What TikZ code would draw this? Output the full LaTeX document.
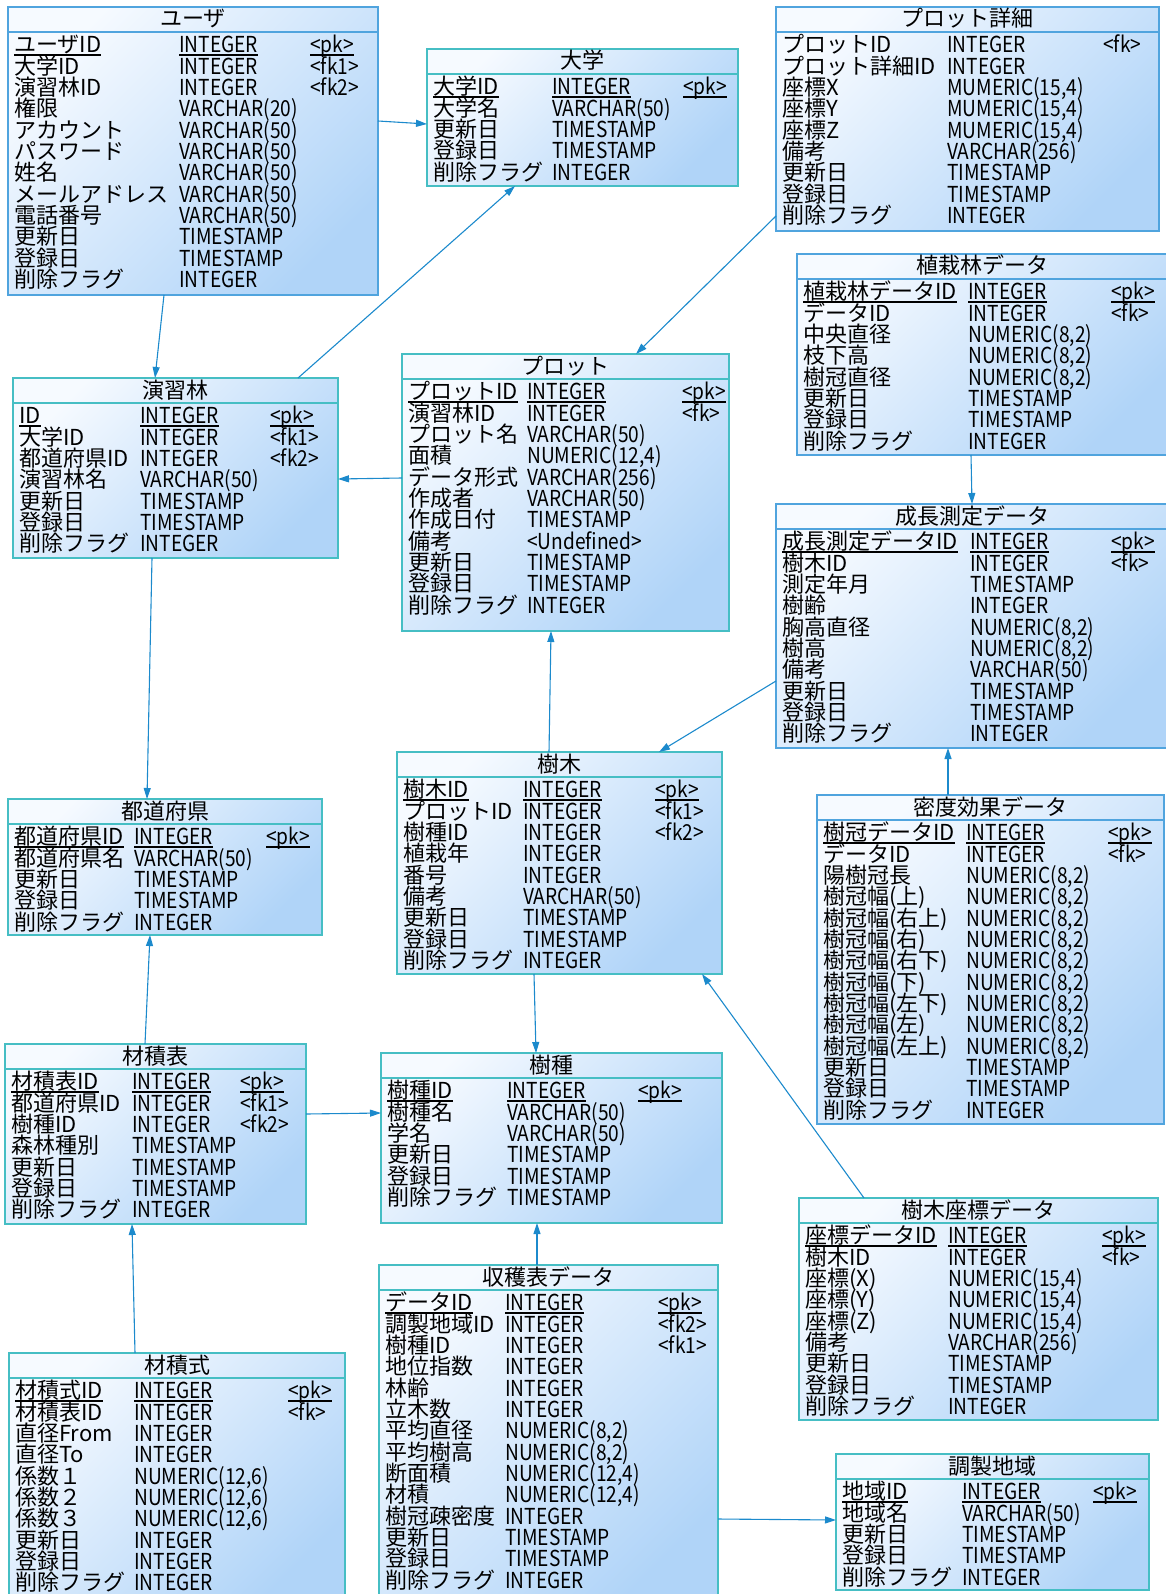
\documentclass[tikz,border=0pt]{standalone}
\usepackage{fontspec}
\setmainfont{Noto Sans CJK JP}
\newfontfamily\latfont[FakeStretch=0.87]{Noto Sans CJK JP}
\usetikzlibrary{arrows.meta}
\definecolor{bfilla}{RGB}{246,250,255}
\definecolor{bfillb}{RGB}{176,212,248}
\definecolor{edgeteal}{RGB}{70,190,196}
\definecolor{edgeblue}{RGB}{80,164,222}
\definecolor{relcol}{RGB}{28,138,204}
\newcommand\entfont{\fontsize{22}{21.35}\selectfont}
\newcommand\pkul[1]{\setbox0=\hbox{#1}\rlap{\rule[-3pt]{\wd0}{1.8pt}}\box0}
\newcommand\cwA{100pt}
\newcommand\cwB{100pt}
\newcommand\rw[3]{\hbox{\vrule height 15pt depth 6.35pt width 0pt\smash{\makebox[\cwA][l]{#1}\makebox[\cwB][l]{\latfont #2}{\latfont #3}}}}
\tikzset{
  entbox/.style={rectangle, anchor=north west, inner sep=0pt, outer sep=0pt,
    line width=1.4pt, top color=bfilla, bottom color=bfillb, shading angle=45},
  titletext/.style={anchor=base, inner sep=0pt, font=\entfont},
  bodytext/.style={anchor=north west, inner sep=0pt, font=\entfont},
  rel/.style={draw=relcol, line width=1.1pt, -{Triangle[length=11pt,width=7pt]}},
}
% #1 name #2 edge colour #3 x,y #4 width #5 height #6 title #7 col1 width #8 col2 width #9 rows
\newcommand\entity[9]{%
  \node[entbox, draw=#2, minimum width=#4pt, minimum height=#5pt] (#1) at (#3) {};
  \draw[draw=#2, line width=1.3pt] ([yshift=-25pt]#1.north west) -- ([yshift=-25pt]#1.north east);
  \node[titletext] (#1-title) at ([yshift=-20pt]#1.north) {#6};
  \renewcommand\cwA{#7pt}\renewcommand\cwB{#8pt}%
  \node[bodytext] (#1-body) at ([xshift=6pt,yshift=-30.5pt]#1.north west)
    {\vbox{\baselineskip=21.35pt\lineskiplimit=-\maxdimen\lineskip=0pt #9}};
}
\begin{document}
\begin{tikzpicture}[x=1pt,y=-1pt]
\useasboundingbox (0,0) rectangle (1166,1594);

\entity{user}{edgeblue}{8,7}{370}{288}{ユーザ}{165}{131}{%
\rw{\pkul{ユーザID}}{\pkul{INTEGER}}{\pkul{<pk>}}
\rw{大学ID}{INTEGER}{<fk1>}
\rw{演習林ID}{INTEGER}{<fk2>}
\rw{権限}{VARCHAR(20)}{}
\rw{アカウント}{VARCHAR(50)}{}
\rw{パスワード}{VARCHAR(50)}{}
\rw{姓名}{VARCHAR(50)}{}
\rw{メールアドレス}{VARCHAR(50)}{}
\rw{電話番号}{VARCHAR(50)}{}
\rw{更新日}{TIMESTAMP}{}
\rw{登録日}{TIMESTAMP}{}
\rw{削除フラグ}{INTEGER}{}}

\entity{univ}{edgeteal}{427,49}{311}{137}{大学}{119}{131}{%
\rw{\pkul{大学ID}}{\pkul{INTEGER}}{\pkul{<pk>}}
\rw{大学名}{VARCHAR(50)}{}
\rw{更新日}{TIMESTAMP}{}
\rw{登録日}{TIMESTAMP}{}
\rw{削除フラグ}{INTEGER}{}}

\entity{plotd}{edgeblue}{776,7}{383}{224}{プロット詳細}{165}{156}{%
\rw{プロットID}{INTEGER}{<fk>}
\rw{プロット詳細ID}{INTEGER}{}
\rw{座標X}{MUMERIC(15,4)}{}
\rw{座標Y}{MUMERIC(15,4)}{}
\rw{座標Z}{MUMERIC(15,4)}{}
\rw{備考}{VARCHAR(256)}{}
\rw{更新日}{TIMESTAMP}{}
\rw{登録日}{TIMESTAMP}{}
\rw{削除フラグ}{INTEGER}{}}

\entity{shoku}{edgeblue}{797,254}{371}{201}{植栽林データ}{165}{143}{%
\rw{\pkul{植栽林データID}}{\pkul{INTEGER}}{\pkul{<pk>}}
\rw{データID}{INTEGER}{<fk>}
\rw{中央直径}{NUMERIC(8,2)}{}
\rw{枝下高}{NUMERIC(8,2)}{}
\rw{樹冠直径}{NUMERIC(8,2)}{}
\rw{更新日}{TIMESTAMP}{}
\rw{登録日}{TIMESTAMP}{}
\rw{削除フラグ}{INTEGER}{}}

\entity{ensyu}{edgeteal}{13,378}{325}{180}{演習林}{121}{130}{%
\rw{\pkul{ID}}{\pkul{INTEGER}}{\pkul{<pk>}}
\rw{大学ID}{INTEGER}{<fk1>}
\rw{都道府県ID}{INTEGER}{<fk2>}
\rw{演習林名}{VARCHAR(50)}{}
\rw{更新日}{TIMESTAMP}{}
\rw{登録日}{TIMESTAMP}{}
\rw{削除フラグ}{INTEGER}{}}

\entity{plot}{edgeteal}{402,354}{327}{277}{プロット}{119}{155}{%
\rw{\pkul{プロットID}}{\pkul{INTEGER}}{\pkul{<pk>}}
\rw{演習林ID}{INTEGER}{<fk>}
\rw{プロット名}{VARCHAR(50)}{}
\rw{面積}{NUMERIC(12,4)}{}
\rw{データ形式}{VARCHAR(256)}{}
\rw{作成者}{VARCHAR(50)}{}
\rw{作成日付}{TIMESTAMP}{}
\rw{備考}{<Undefined>}{}
\rw{更新日}{TIMESTAMP}{}
\rw{登録日}{TIMESTAMP}{}
\rw{削除フラグ}{INTEGER}{}}

\entity{seicho}{edgeblue}{776,504}{392}{244}{成長測定データ}{188}{141}{%
\rw{\pkul{成長測定データID}}{\pkul{INTEGER}}{\pkul{<pk>}}
\rw{樹木ID}{INTEGER}{<fk>}
\rw{測定年月}{TIMESTAMP}{}
\rw{樹齢}{INTEGER}{}
\rw{胸高直径}{NUMERIC(8,2)}{}
\rw{樹高}{NUMERIC(8,2)}{}
\rw{備考}{VARCHAR(50)}{}
\rw{更新日}{TIMESTAMP}{}
\rw{登録日}{TIMESTAMP}{}
\rw{削除フラグ}{INTEGER}{}}

\entity{jumoku}{edgeteal}{397,752}{325}{222}{樹木}{120}{132}{%
\rw{\pkul{樹木ID}}{\pkul{INTEGER}}{\pkul{<pk>}}
\rw{プロットID}{INTEGER}{<fk1>}
\rw{樹種ID}{INTEGER}{<fk2>}
\rw{植栽年}{INTEGER}{}
\rw{番号}{INTEGER}{}
\rw{備考}{VARCHAR(50)}{}
\rw{更新日}{TIMESTAMP}{}
\rw{登録日}{TIMESTAMP}{}
\rw{削除フラグ}{INTEGER}{}}

\entity{mitsudo}{edgeblue}{817,795}{347}{329}{密度効果データ}{143}{142}{%
\rw{\pkul{樹冠データID}}{\pkul{INTEGER}}{\pkul{<pk>}}
\rw{データID}{INTEGER}{<fk>}
\rw{陽樹冠長}{NUMERIC(8,2)}{}
\rw{樹冠幅(上)}{NUMERIC(8,2)}{}
\rw{樹冠幅(右上)}{NUMERIC(8,2)}{}
\rw{樹冠幅(右)}{NUMERIC(8,2)}{}
\rw{樹冠幅(右下)}{NUMERIC(8,2)}{}
\rw{樹冠幅(下)}{NUMERIC(8,2)}{}
\rw{樹冠幅(左下)}{NUMERIC(8,2)}{}
\rw{樹冠幅(左)}{NUMERIC(8,2)}{}
\rw{樹冠幅(左上)}{NUMERIC(8,2)}{}
\rw{更新日}{TIMESTAMP}{}
\rw{登録日}{TIMESTAMP}{}
\rw{削除フラグ}{INTEGER}{}}

\entity{pref}{edgeteal}{8,799}{314}{136}{都道府県}{120}{132}{%
\rw{\pkul{都道府県ID}}{\pkul{INTEGER}}{\pkul{<pk>}}
\rw{都道府県名}{VARCHAR(50)}{}
\rw{更新日}{TIMESTAMP}{}
\rw{登録日}{TIMESTAMP}{}
\rw{削除フラグ}{INTEGER}{}}

\entity{zaiseki}{edgeteal}{5,1044}{301}{180}{材積表}{121}{108}{%
\rw{\pkul{材積表ID}}{\pkul{INTEGER}}{\pkul{<pk>}}
\rw{都道府県ID}{INTEGER}{<fk1>}
\rw{樹種ID}{INTEGER}{<fk2>}
\rw{森林種別}{TIMESTAMP}{}
\rw{更新日}{TIMESTAMP}{}
\rw{登録日}{TIMESTAMP}{}
\rw{削除フラグ}{INTEGER}{}}

\entity{jushu}{edgeteal}{381,1053}{341}{170}{樹種}{120}{131}{%
\rw{\pkul{樹種ID}}{\pkul{INTEGER}}{\pkul{<pk>}}
\rw{樹種名}{VARCHAR(50)}{}
\rw{学名}{VARCHAR(50)}{}
\rw{更新日}{TIMESTAMP}{}
\rw{登録日}{TIMESTAMP}{}
\rw{削除フラグ}{TIMESTAMP}{}}

\entity{shukaku}{edgeteal}{379,1265}{339}{340}{収穫表データ}{120}{153}{%
\rw{\pkul{データID}}{\pkul{INTEGER}}{\pkul{<pk>}}
\rw{調製地域ID}{INTEGER}{<fk2>}
\rw{樹種ID}{INTEGER}{<fk1>}
\rw{地位指数}{INTEGER}{}
\rw{林齢}{INTEGER}{}
\rw{立木数}{INTEGER}{}
\rw{平均直径}{NUMERIC(8,2)}{}
\rw{平均樹高}{NUMERIC(8,2)}{}
\rw{断面積}{NUMERIC(12,4)}{}
\rw{材積}{NUMERIC(12,4)}{}
\rw{樹冠疎密度}{INTEGER}{}
\rw{更新日}{TIMESTAMP}{}
\rw{登録日}{TIMESTAMP}{}
\rw{削除フラグ}{INTEGER}{}}

\entity{zahyo}{edgeteal}{799,1198}{359}{222}{樹木座標データ}{143}{154}{%
\rw{\pkul{座標データID}}{\pkul{INTEGER}}{\pkul{<pk>}}
\rw{樹木ID}{INTEGER}{<fk>}
\rw{座標(X)}{NUMERIC(15,4)}{}
\rw{座標(Y)}{NUMERIC(15,4)}{}
\rw{座標(Z)}{NUMERIC(15,4)}{}
\rw{備考}{VARCHAR(256)}{}
\rw{更新日}{TIMESTAMP}{}
\rw{登録日}{TIMESTAMP}{}
\rw{削除フラグ}{INTEGER}{}}

\entity{chosei}{edgeteal}{836,1454}{313}{136}{調製地域}{120}{131}{%
\rw{\pkul{地域ID}}{\pkul{INTEGER}}{\pkul{<pk>}}
\rw{地域名}{VARCHAR(50)}{}
\rw{更新日}{TIMESTAMP}{}
\rw{登録日}{TIMESTAMP}{}
\rw{削除フラグ}{INTEGER}{}}

\entity{zsiki}{edgeteal}{9,1353}{336}{250}{材積式}{119}{154}{%
\rw{\pkul{材積式ID}}{\pkul{INTEGER}}{\pkul{<pk>}}
\rw{材積表ID}{INTEGER}{<fk>}
\rw{直径From}{INTEGER}{}
\rw{直径To}{INTEGER}{}
\rw{係数１}{NUMERIC(12,6)}{}
\rw{係数２}{NUMERIC(12,6)}{}
\rw{係数３}{NUMERIC(12,6)}{}
\rw{更新日}{INTEGER}{}
\rw{登録日}{INTEGER}{}
\rw{削除フラグ}{INTEGER}{}}

% relations
\draw[rel] ([yshift=-114pt]user.north east) -- ([yshift=-75pt]univ.north west);
\draw[rel] ([xshift=156pt]user.south west) -- ([xshift=142pt]ensyu.north west);
\draw[rel] ([xshift=285pt]ensyu.north west) -- ([xshift=88pt]univ.south west);
\draw[rel] ([yshift=-209pt]plotd.north west) -- ([xshift=234pt]plot.north west);
\draw[rel] ([yshift=-124pt]plot.north west) -- ([yshift=-101pt]ensyu.north east);
\draw[rel] ([xshift=139pt]ensyu.south west) -- ([xshift=139pt]pref.north west);
\draw[rel] ([xshift=174pt]shoku.south west) -- ([xshift=196pt]seicho.north west);
\draw[rel] ([yshift=-177pt]seicho.north west) -- ([xshift=262pt]jumoku.north west);
\draw[rel] ([xshift=152pt]jumoku.north west) -- ([xshift=149pt]plot.south west);
\draw[rel] ([xshift=131pt]mitsudo.north west) -- ([xshift=172pt]seicho.south west);
\draw[rel] ([xshift=137pt]jumoku.south west) -- ([xshift=155pt]jushu.north west);
\draw[rel] ([xshift=65pt]zahyo.north west) -- ([xshift=305pt]jumoku.south west);
\draw[rel] ([xshift=140pt]zaiseki.north west) -- ([xshift=142pt]pref.south west);
\draw[rel] ([yshift=-70pt]zaiseki.north east) -- ([yshift=-60pt]jushu.north west);
\draw[rel] ([xshift=158pt]shukaku.north west) -- ([xshift=156pt]jushu.south west);
\draw[rel] ([yshift=-254pt]shukaku.north east) -- ([yshift=-66pt]chosei.north west);
\draw[rel] ([xshift=126pt]zsiki.north west) -- ([xshift=127pt]zaiseki.south west);
\end{tikzpicture}
\end{document}
